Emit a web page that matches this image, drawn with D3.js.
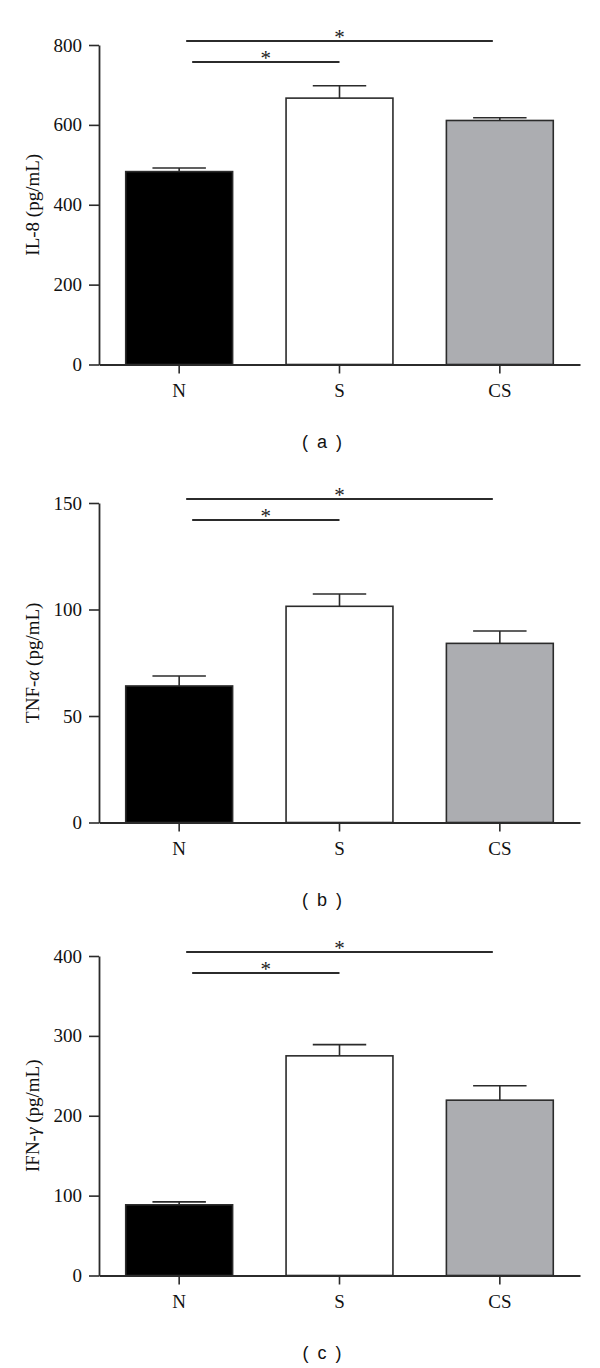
<!DOCTYPE html>
<html>
<head>
<meta charset="utf-8">
<script src="https://cdn.jsdelivr.net/npm/d3@7"></script>
<style>
  body { margin: 0; background: #fff; }
  svg { display: block; }
</style>
</head>
<body>
<div id="chart"></div>
<script>
const width = 600;
const height = 1368;

// groups and values
const groups = ["N", "S", "CS"];
const groupFill = ["#000000", "#ffffff", "#acadb1"];

const il8Values = [483, 667, 611];
const il8Errors = [9, 31, 7];
const il8Ticks = [0, 200, 400, 600, 800];

const tnfValues = [64.1, 101.5, 84.1];
const tnfErrors = [4.7, 5.8, 5.8];
const tnfTicks = [0, 50, 100, 150];

const ifnValues = [88.5, 275, 219.5];
const ifnErrors = [3.7, 14, 18];
const ifnTicks = [0, 100, 200, 300, 400];

// significance brackets (both "*")
const comparisons = [
  { from: "N", to: "CS", label: "*" },
  { from: "N", to: "S", label: "*" }
];

// y label parts: [before, greek (italic), after]
const panels = [
  { top: 45, yLabel: ["IL-8 (pg/mL)", "", ""], values: il8Values, errors: il8Errors, ticks: il8Ticks, tag: "( a )" },
  { top: 503, yLabel: ["TNF-", "α", " (pg/mL)"], values: tnfValues, errors: tnfErrors, ticks: tnfTicks, tag: "( b )" },
  { top: 956, yLabel: ["IFN-", "γ", " (pg/mL)"], values: ifnValues, errors: ifnErrors, ticks: ifnTicks, tag: "( c )" }
];

const left = 99, right = 580, plotH = 319.5;
const ink = "#2b2b2b";
const serif = "'Liberation Serif', 'Times New Roman', serif";

const svg = d3.select("#chart")
  .append("svg")
  .attr("width", width)
  .attr("height", height);

const x = d3.scaleBand()
  .domain(groups)
  .range([left, right])
  .paddingInner(1 / 3)
  .paddingOuter(1 / 6);

panels.forEach(drawPanel);

function drawPanel(p) {
  const g = svg.append("g");
  const bottom = p.top + plotH;

  const y = d3.scaleLinear()
    .domain([0, d3.max(p.ticks)])
    .range([bottom, p.top]);

  const data = groups.map((k, i) => ({ key: k, value: p.values[i], err: p.errors[i], fill: groupFill[i] }));

  // error bars (upper half only)
  const capW = x.bandwidth() / 2;
  g.selectAll(".err")
    .data(data)
    .join("line")
    .attr("x1", d => x(d.key) + x.bandwidth() / 2)
    .attr("x2", d => x(d.key) + x.bandwidth() / 2)
    .attr("y1", d => y(d.value))
    .attr("y2", d => y(d.value + d.err))
    .attr("stroke", ink)
    .attr("stroke-width", 1.6);

  g.selectAll(".cap")
    .data(data)
    .join("line")
    .attr("x1", d => x(d.key) + x.bandwidth() / 2 - capW / 2)
    .attr("x2", d => x(d.key) + x.bandwidth() / 2 + capW / 2)
    .attr("y1", d => y(d.value + d.err))
    .attr("y2", d => y(d.value + d.err))
    .attr("stroke", ink)
    .attr("stroke-width", 1.6);

  g.selectAll(".bar")
    .data(data)
    .join("rect")
    .attr("x", d => x(d.key))
    .attr("y", d => y(d.value))
    .attr("width", x.bandwidth())
    .attr("height", d => y(0) - y(d.value))
    .attr("fill", d => d.fill)
    .attr("stroke", ink)
    .attr("stroke-width", 1.6);

  // axes
  const yAxis = g.append("g")
    .attr("transform", `translate(${left},0)`)
    .call(d3.axisLeft(y).tickValues(p.ticks).tickSize(10).tickSizeOuter(0).tickPadding(7));

  const xAxis = g.append("g")
    .attr("transform", `translate(0,${bottom})`)
    .call(d3.axisBottom(x).tickSize(9).tickSizeOuter(0).tickPadding(10));

  [yAxis, xAxis].forEach(a => {
    a.select(".domain").attr("stroke", ink).attr("stroke-width", 1.8);
    a.selectAll(".tick line").attr("stroke", ink).attr("stroke-width", 1.6);
    a.selectAll(".tick text")
      .attr("fill", "#111")
      .style("font-family", serif)
      .style("font-size", "19px");
  });

  // y label
  const lab = g.append("text")
    .attr("transform", `translate(32,${(p.top + bottom) / 2}) rotate(-90)`)
    .attr("text-anchor", "middle")
    .attr("dominant-baseline", "central")
    .style("font-family", serif)
    .style("font-size", "19px")
    .attr("fill", "#111");
  lab.append("tspan").text(p.yLabel[0]);
  if (p.yLabel[1]) {
    lab.append("tspan").style("font-style", "italic").text(p.yLabel[1]);
    lab.append("tspan").text(p.yLabel[2]);
  }

  // significance lines
  const cx = k => x(k) + x.bandwidth() / 2;
  const levels = [p.top - 4, p.top + 17];
  const insets = [[7, 7], [13, 0]];
  comparisons.forEach((c, i) => {
    const x1 = cx(c.from) + insets[i][0];
    const x2 = cx(c.to) - insets[i][1];
    g.append("line")
      .attr("x1", x1).attr("x2", x2)
      .attr("y1", levels[i]).attr("y2", levels[i])
      .attr("stroke", ink)
      .attr("stroke-width", 1.8);
    g.append("text")
      .attr("x", (x1 + x2) / 2)
      .attr("y", levels[i] + 3)
      .attr("text-anchor", "middle")
      .style("font-family", serif)
      .style("font-size", "21px")
      .attr("fill", "#222")
      .text(c.label);
  });

  // panel tag
  g.append("text")
    .attr("x", 323)
    .attr("y", bottom + 77)
    .attr("text-anchor", "middle")
    .attr("dominant-baseline", "central")
    .style("font-family", "'Liberation Sans', Arial, sans-serif")
    .style("font-size", "18px")
    .style("letter-spacing", "2px")
    .style("white-space", "pre")
    .attr("fill", "#111")
    .text(p.tag);
}
</script>
</body>
</html>
